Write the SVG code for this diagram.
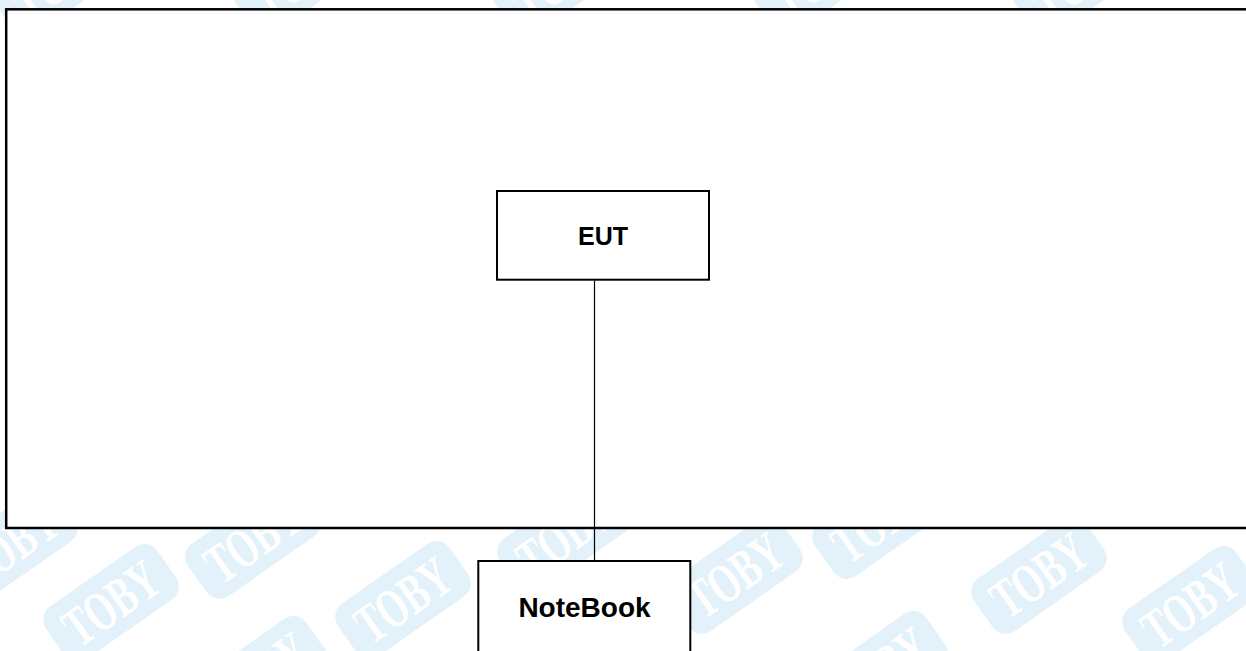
<svg xmlns="http://www.w3.org/2000/svg" xmlns:xlink="http://www.w3.org/1999/xlink" width="1246" height="651" viewBox="0 0 1246 651">
  <style>
    .box { fill: #ffffff; stroke: #000000; stroke-width: 2; }
    .frame { fill: #ffffff; stroke: #000000; stroke-width: 2.5; }
    .label { font-family: "Liberation Sans", Arial, sans-serif; font-weight: bold; fill: #000000; text-anchor: middle; }
    .conn { stroke: #000000; stroke-width: 1.2; fill: none; }
    .wm-bg { fill: #e2f1fa; }
    .wm-tx { font-family: "Liberation Serif", "Times New Roman", serif; font-weight: bold; font-size: 56px; fill: #ffffff; text-anchor: middle; }
  </style>
  <defs>
    <g id="stamp">
      <rect class="wm-bg" x="-68" y="-32" width="136" height="64" rx="16"/>
      <text class="wm-tx" x="0" y="19" textLength="104" lengthAdjust="spacingAndGlyphs">TOBY</text>
    </g>
  </defs>
  <rect x="0" y="0" width="1246" height="651" fill="#ffffff"/>
  <g id="watermark">
    <use xlink:href="#stamp" transform="translate(111,603) rotate(-35)"/>
    <use xlink:href="#stamp" transform="translate(253,540) rotate(-35)"/>
    <use xlink:href="#stamp" transform="translate(403,600) rotate(-35)"/>
    <use xlink:href="#stamp" transform="translate(260,675) rotate(-35)"/>
    <use xlink:href="#stamp" transform="translate(10,545) rotate(-35)"/>
    <use xlink:href="#stamp" transform="translate(565,535) rotate(-35)"/>
    <use xlink:href="#stamp" transform="translate(735,575) rotate(-35)"/>
    <use xlink:href="#stamp" transform="translate(880,520) rotate(-35)"/>
    <use xlink:href="#stamp" transform="translate(1039,575) rotate(-35)"/>
    <use xlink:href="#stamp" transform="translate(1190,605) rotate(-35)"/>
    <use xlink:href="#stamp" transform="translate(880,670) rotate(-35)"/>
    <use xlink:href="#stamp" transform="translate(60,-22) rotate(-35)"/>
    <use xlink:href="#stamp" transform="translate(300,-24) rotate(-35)"/>
    <use xlink:href="#stamp" transform="translate(560,-22) rotate(-35)"/>
    <use xlink:href="#stamp" transform="translate(820,-24) rotate(-35)"/>
    <use xlink:href="#stamp" transform="translate(1080,-22) rotate(-35)"/>
  </g>
  <g id="frame">
    <rect class="frame" x="6.2" y="9.3" width="1250" height="518.7"/>
  </g>
  <g id="connectors">
    <line class="conn" x1="594.5" y1="280.5" x2="594.5" y2="560"/>
  </g>
  <g id="node-eut">
    <rect class="box" x="497" y="191" width="212" height="88.7"/>
    <text class="label" x="603" y="245" font-size="25">EUT</text>
  </g>
  <g id="node-notebook">
    <rect class="box" x="478.3" y="561" width="212" height="100"/>
    <text class="label" x="584.5" y="616.7" font-size="28">NoteBook</text>
  </g>
</svg>
